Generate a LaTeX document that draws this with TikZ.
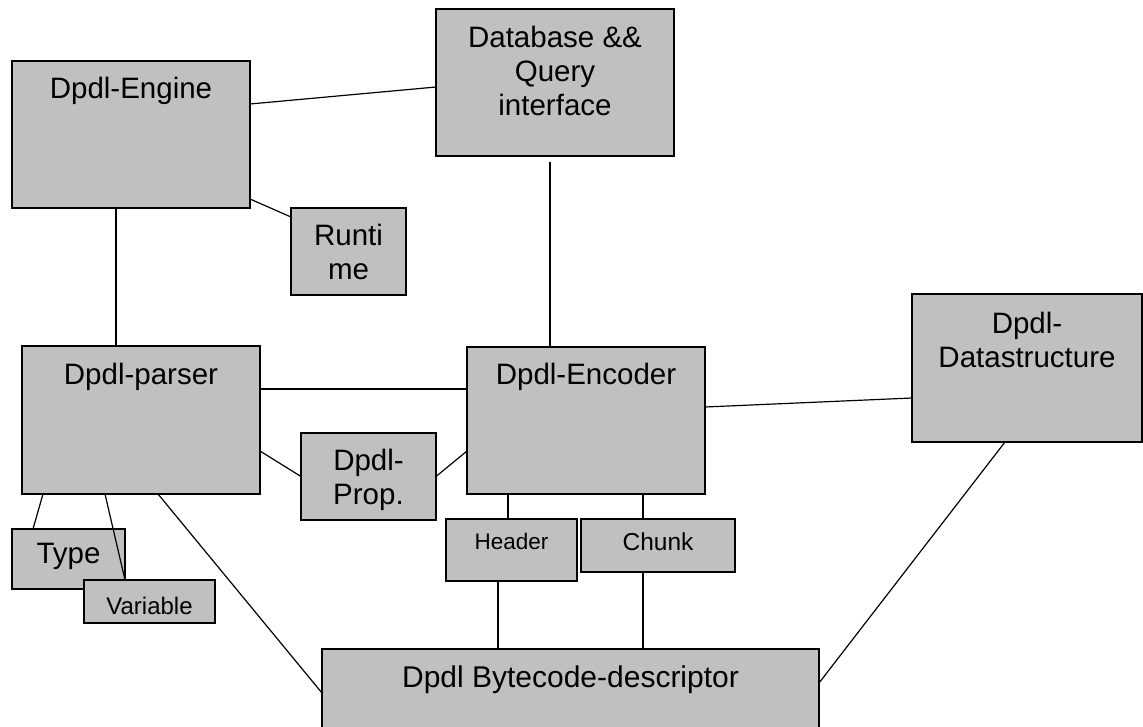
\documentclass[tikz,border=0pt]{standalone}
\usepackage{fontspec}
\setmainfont{Liberation Sans}
\usetikzlibrary{positioning}
\definecolor{boxgray}{RGB}{192,192,192}
\begin{document}
\begin{tikzpicture}[x=1pt,y=-1pt,
  box/.style={draw=black, line width=1.6pt, fill=boxgray, inner sep=0pt, outer sep=0pt},
  link/.style={draw=black, line width=1.2pt},
  lbl/.style={inner sep=0pt, align=center, font=\fontsize{29.5}{34}\selectfont},
  small/.style={inner sep=0pt, align=center}]
\useasboundingbox (0,0) rectangle (1143,726);
\clip (0,0) rectangle (1143,726);

% component boxes
\node[box, minimum width=238pt, minimum height=147pt] (eng)  at (131,134.5) {};
\node[box, minimum width=238pt, minimum height=147pt] (db)   at (555,82.5) {};
\node[box, minimum width=115pt, minimum height=87pt]  (rt)   at (348.5,251.5) {};
\node[box, minimum width=238pt, minimum height=148pt] (par)  at (141,420) {};
\node[box, minimum width=238pt, minimum height=147pt] (enc)  at (586,420.5) {};
\node[box, minimum width=230pt, minimum height=148pt] (ds)   at (1027,368) {};
\node[box, minimum width=135pt, minimum height=87pt]  (prop) at (368.5,476.5) {};
\node[box, minimum width=113pt, minimum height=60pt]  (type) at (68.5,559) {};
\node[box, minimum width=131pt, minimum height=43pt]  (var)  at (149.5,601.5) {};
\node[box, minimum width=131pt, minimum height=62pt]  (hdr)  at (511.5,550) {};
\node[box, minimum width=154pt, minimum height=53pt]  (chk)  at (658,545.5) {};
\node[box, minimum width=497pt, minimum height=88pt]  (bc)   at (570.5,693) {};

% labels, set near the top of each box
\node[lbl, below=16pt of eng.north]  (eng-t)  {Dpdl-Engine};
\node[lbl, below=17pt of db.north]   (db-t)   {Database \&\&\\Query\\interface};
\node[lbl, below=16pt of rt.north]   (rt-t)   {Runti\\me};
\node[lbl, below=17pt of par.north]  (par-t)  {Dpdl-parser};
\node[lbl, below=16pt of enc.north]  (enc-t)  {Dpdl-Encoder};
\node[lbl, below=18pt of ds.north]   (ds-t)   {Dpdl-\\Datastructure};
\node[lbl, below=16pt of prop.north] (prop-t) {Dpdl-\\Prop.};
\node[lbl, below=14pt of type.north] (type-t) {Type};
\node[small, font=\fontsize{24}{28}\selectfont, below=17pt of var.north] (var-t) {Variable};
\node[small, font=\fontsize{22.5}{26}\selectfont, below=14pt of hdr.north] (hdr-t) {Header};
\node[small, font=\fontsize{24.5}{28}\selectfont, below=14pt of chk.north] (chk-t) {Chunk};
\node[lbl, font=\fontsize{30}{34}\selectfont, below=17pt of bc.north] (bc-t) {Dpdl Bytecode-descriptor};

% connectors
\draw[link] ([yshift=30.5pt]eng.east) -- ([yshift=-4.5pt]db.west);
\draw[link] ([yshift=-64.5pt]eng.east) -- ([yshift=34.5pt]rt.west);
\draw[link] ([xshift=-15pt]eng.south) -- ([xshift=-15pt]eng.south |- par.north);
\draw[link] ([xshift=-5pt,yshift=-6pt]db.south) -- ([xshift=-5pt]db.south |- enc.north);
\draw[link] ([yshift=31pt]par.east) -- ([yshift=31pt]par.east -| enc.west);
\draw[link] ([yshift=-31pt]par.east) -- (prop.west);
\draw[link] (prop.east) -- ([yshift=-30.5pt]enc.west);
\draw[link] ([xshift=-98pt]par.south) -- ([xshift=-35.5pt]type.north);
\draw[link] ([xshift=-36pt]par.south) -- ([xshift=-24.5pt]var.north);
\draw[link] ([xshift=17pt]par.south) -- (bc.west);
\draw[link] ([yshift=13.5pt]enc.east) -- ([yshift=-30pt]ds.west);
\draw[link] ([xshift=-78pt]enc.south) -- ([xshift=-78pt]enc.south |- hdr.north);
\draw[link] ([xshift=57pt]enc.south) -- ([xshift=57pt]enc.south |- chk.north);
\draw[link] ([xshift=-13.5pt]hdr.south) -- ([xshift=-13.5pt]hdr.south |- bc.north);
\draw[link] ([xshift=-15pt]chk.south) -- ([xshift=-15pt]chk.south |- bc.north);
\draw[link] ([yshift=10pt]bc.east) -- ([xshift=-22pt]ds.south);
\end{tikzpicture}
\end{document}
